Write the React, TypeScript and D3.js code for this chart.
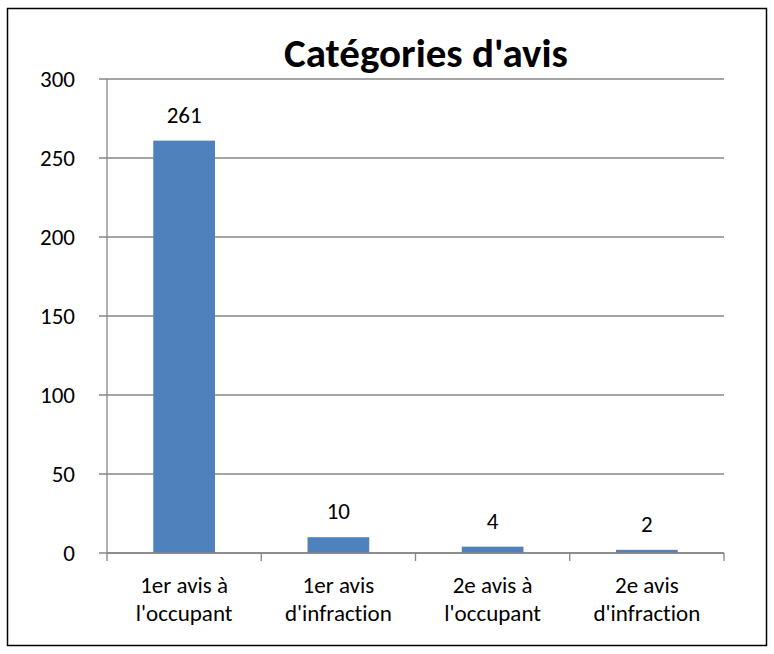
import { useMemo } from "react";
import { scaleLinear, scaleBand } from "d3";

const categories = [
  ["1er avis à", "l'occupant"],
  ["1er avis", "d'infraction"],
  ["2e avis à", "l'occupant"],
  ["2e avis", "d'infraction"],
];
const values = [261, 10, 4, 2];
const yTicks = [0, 50, 100, 150, 200, 250, 300];
const TITLE = "Catégories d'avis";

const WIDTH = 774;
const HEIGHT = 654;
const PLOT = { left: 107, right: 724, top: 79, bottom: 553 };
const FONT = "Carlito, Calibri, Lato, 'Open Sans', sans-serif";
const BAR = "#4F81BD";
const GRID = "#868686";
const LABEL_SIZE = 23;

export default function App() {
  const x = useMemo(
    () =>
      scaleBand<number>()
        .domain(values.map((_, i) => i))
        .range([PLOT.left, PLOT.right])
        .paddingInner(0.6)
        .paddingOuter(0.3),
    []
  );
  const y = useMemo(
    () => scaleLinear().domain([0, 300]).range([PLOT.bottom, PLOT.top]),
    []
  );
  const step = (PLOT.right - PLOT.left) / values.length;

  return (
    <svg
      width={WIDTH}
      height={HEIGHT}
      style={{ position: "absolute", left: 0, top: 0, background: "#fff", fontVariantLigatures: "none" }}
      fontFamily={FONT}
    >
      <rect x={7.5} y={8.5} width={759} height={637} fill="#fff" stroke="#000" strokeWidth={1.5} />

      <text x={426} y={67} textAnchor="middle" fontSize={41} fontWeight="bold" fill="#000">
        {TITLE}
      </text>

      {/* gridlines + y ticks */}
      {yTicks.map((t) => (
        <g key={t}>
          <line x1={PLOT.left - 8} x2={PLOT.right} y1={y(t)} y2={y(t)} stroke={GRID} strokeWidth={1.3} />
          <text x={75} y={y(t) + 8} textAnchor="end" fontSize={LABEL_SIZE} fill="#000">
            {t}
          </text>
        </g>
      ))}

      {/* y axis */}
      <line x1={PLOT.left} x2={PLOT.left} y1={PLOT.top} y2={PLOT.bottom} stroke={GRID} strokeWidth={1.3} />

      {/* x axis ticks */}
      {values.map((_, i) => (
        <line
          key={i}
          x1={PLOT.left + step * i}
          x2={PLOT.left + step * i}
          y1={PLOT.bottom}
          y2={PLOT.bottom + 8}
          stroke={GRID}
          strokeWidth={1.3}
        />
      ))}
      <line x1={PLOT.right} x2={PLOT.right} y1={PLOT.bottom} y2={PLOT.bottom + 8} stroke={GRID} strokeWidth={1.3} />

      {/* bars */}
      {values.map((v, i) => (
        <g key={i}>
          <rect x={x(i)!} y={y(v)} width={x.bandwidth()} height={y(0) - y(v)} fill={BAR} />
          <text
            x={x(i)! + x.bandwidth() / 2}
            y={y(v) - 18}
            textAnchor="middle"
            fontSize={LABEL_SIZE}
            fill="#000"
          >
            {v}
          </text>
        </g>
      ))}
      <line x1={PLOT.left} x2={PLOT.right} y1={PLOT.bottom} y2={PLOT.bottom} stroke={GRID} strokeWidth={1.3} />

      {/* category labels */}
      {categories.map((lines, i) => (
        <text key={i} textAnchor="middle" fontSize={LABEL_SIZE} fill="#000">
          {lines.map((l, j) => (
            <tspan key={j} x={x(i)! + x.bandwidth() / 2} y={593 + j * 28}>
              {l}
            </tspan>
          ))}
        </text>
      ))}
    </svg>
  );
}
